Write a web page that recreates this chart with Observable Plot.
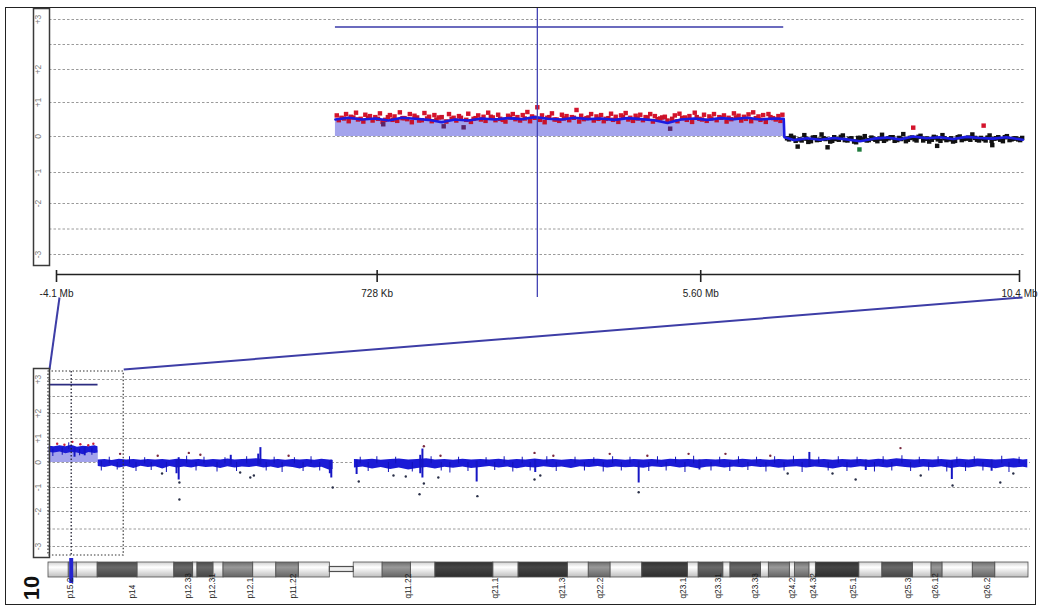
<!DOCTYPE html>
<html><head><meta charset="utf-8">
<script src="https://cdn.jsdelivr.net/npm/d3@7"></script>
<script src="https://cdn.jsdelivr.net/npm/@observablehq/plot@0.6"></script>
<style>
html,body{margin:0;padding:0;background:#fff;}
#root{position:relative;width:1039px;height:606px;overflow:hidden;background:#fff;font-family:"Liberation Sans",Arial,sans-serif;}
#root svg{position:absolute;left:0;top:0;overflow:visible;background:transparent;max-width:none;}
#frame{position:absolute;left:5px;top:7px;width:1031px;height:598px;border:1.5px solid #222;box-sizing:border-box;}
</style></head>
<body><div id="root"><div id="frame"></div></div>
<script>
// ---------------- data ----------------
const topTicks = [-4.1, 0.728, 5.6, 10.4];
const topTickLabels = ["-4.1 Mb", "728 Kb", "5.60 Mb", "10.4 Mb"];
const yTicks = [3, 2, 1, 0, -1, -2, -3];
const yTickLabels = ["+3", "+2", "+1", "0", "-1", "-2", "-3"];
const gridValues = [3, 2.5, 2, 1, 0, -1, -2, -2.5, -3];
const chromLength = 135.5;
const probeMb = 3.14;
const zoomWindow = [-4.1, 10.4];
const gainSegments = [{start: 0.10, end: 6.85, mean: 0.50, meanWide: 0.5}];

// top panel: log ratios (Mb, log ratio)
const topGainPoints = [
[0.12,0.62],[0.19,0.55],[0.26,0.66],[0.33,0.58],[0.41,0.70],[0.48,0.52],[0.55,0.64],[0.62,0.60],[0.70,0.57],[0.77,0.68],
[0.85,0.49],[0.92,0.63],[0.99,0.59],[1.07,0.71],[1.14,0.54],[1.22,0.66],[1.29,0.61],[1.36,0.47],[1.44,0.69],[1.51,0.58],
[1.59,0.63],[1.66,0.56],[1.81,0.66],[1.88,0.55],[1.96,0.60],[2.10,0.67],[2.18,0.52],[2.25,0.62],[2.33,0.58],[2.40,0.70],
[2.47,0.56],[2.55,0.64],[2.62,0.49],[2.70,0.61],[2.77,0.66],[2.84,0.57],[2.92,0.63],[2.99,0.72],[3.06,0.59],[3.14,0.86],
[3.21,0.62],[3.29,0.55],[3.36,0.68],[3.43,0.50],[3.51,0.64],[3.58,0.60],[3.66,0.57],[3.73,0.78],[3.80,0.61],[3.88,0.54],
[3.95,0.66],[4.03,0.59],[4.10,0.63],[4.17,0.52],[4.25,0.67],[4.32,0.58],[4.40,0.62],[4.47,0.69],[4.54,0.55],[4.62,0.61],
[4.69,0.64],[4.77,0.57],[4.84,0.66],[4.91,0.60],[4.99,0.53],[5.06,0.58],[5.21,0.62],[5.28,0.67],[5.36,0.56],[5.43,0.60],
[5.51,0.70],[5.58,0.52],[5.65,0.64],[5.73,0.59],[5.80,0.66],[5.88,0.57],[5.95,0.62],[6.02,0.55],[6.10,0.68],[6.17,0.61],
[6.25,0.58],[6.32,0.65],[6.39,0.71],[6.47,0.59],[6.54,0.63],[6.62,0.66],[6.69,0.54],[6.77,0.60],[6.83,0.64]];
const topGainPoints2 = [
[0.15,0.48],[0.23,0.53],[0.30,0.45],[0.37,0.56],[0.44,0.50],[0.52,0.44],[0.59,0.55],[0.66,0.47],[0.74,0.52],[0.81,0.43],
[0.89,0.57],[0.96,0.49],[1.03,0.46],[1.11,0.54],[1.18,0.51],[1.25,0.42],[1.33,0.56],[1.40,0.48],[1.48,0.53],[1.55,0.45],
[1.62,0.50],[1.70,0.57],[1.77,0.44],[1.85,0.52],[1.92,0.47],[1.99,0.55],[2.07,0.49],[2.14,0.43],[2.21,0.54],[2.29,0.50],
[2.36,0.46],[2.44,0.58],[2.51,0.48],[2.58,0.52],[2.66,0.44],[2.73,0.56],[2.81,0.51],[2.88,0.47],[2.95,0.53],[3.03,0.45],
[3.10,0.55],[3.18,0.49],[3.25,0.42],[3.32,0.57],[3.40,0.50],[3.47,0.46],[3.54,0.53],[3.62,0.48],[3.69,0.55],[3.77,0.44],
[3.84,0.51],[3.91,0.56],[3.99,0.47],[4.06,0.52],[4.14,0.45],[4.21,0.54],[4.28,0.49],[4.36,0.43],[4.43,0.57],[4.51,0.50],
[4.58,0.46],[4.65,0.53],[4.73,0.48],[4.80,0.55],[4.88,0.44],[4.95,0.51],[5.02,0.56],[5.10,0.47],[5.17,0.52],[5.25,0.45],
[5.32,0.54],[5.39,0.49],[5.47,0.43],[5.54,0.57],[5.62,0.50],[5.69,0.46],[5.76,0.53],[5.84,0.48],[5.91,0.55],[5.99,0.44],
[6.06,0.51],[6.13,0.56],[6.21,0.47],[6.28,0.52],[6.36,0.45],[6.43,0.54],[6.50,0.49],[6.58,0.43],[6.65,0.57],[6.73,0.50],[6.80,0.46]];
const topGainLowPoints = [[0.82,0.36],[1.73,0.30],[2.03,0.27],[5.14,0.23]];
const topNormalPoints = [
[6.90,-0.05],[6.96,0.02],[7.03,-0.12],[7.06,-0.28],[7.09,-0.08],[7.16,0.04],[7.22,-0.15],[7.29,-0.03],[7.35,-0.10],[7.42,0.06],
[7.48,-0.07],[7.51,-0.30],[7.55,-0.14],[7.61,-0.02],[7.68,-0.09],[7.74,0.03],[7.81,-0.11],[7.87,-0.05],[7.94,-0.16],[8.00,-0.04],
[8.07,0.01],[8.13,-0.10],[8.20,-0.06],[8.26,-0.13],[8.33,0.05],[8.39,-0.08],[8.46,-0.02],[8.52,-0.12],[8.59,-0.04],[8.65,0.07],
[8.72,-0.09],[8.78,-0.03],[8.85,-0.11],[8.91,0.02],[8.98,-0.06],[9.04,-0.14],[9.11,-0.01],[9.16,-0.26],[9.17,-0.08],[9.24,0.04],
[9.30,-0.10],[9.37,-0.05],[9.43,-0.12],[9.50,0.00],[9.56,-0.07],[9.63,-0.03],[9.69,0.06],[9.76,-0.09],[9.82,-0.04],[9.89,-0.11],
[9.95,0.03],[9.99,-0.24],[10.02,-0.06],[10.08,-0.02],[10.15,-0.13],[10.21,0.01],[10.28,-0.08],[10.34,-0.05],[10.41,-0.10]];
const topNormalPoints2 = [
[6.93,-0.08],[7.00,-0.03],[7.12,-0.11],[7.19,-0.06],[7.26,-0.13],[7.32,-0.02],[7.39,-0.09],[7.45,-0.05],[7.58,-0.12],[7.64,-0.07],
[7.71,-0.01],[7.77,-0.10],[7.84,-0.06],[7.91,-0.14],[7.97,-0.04],[8.04,-0.08],[8.10,-0.11],[8.17,-0.03],[8.23,-0.09],[8.30,-0.06],
[8.36,-0.12],[8.43,-0.05],[8.49,-0.02],[8.56,-0.10],[8.62,-0.07],[8.69,-0.13],[8.75,-0.04],[8.82,-0.08],[8.88,-0.01],[8.95,-0.11],
[9.01,-0.06],[9.08,-0.09],[9.14,-0.03],[9.21,-0.12],[9.27,-0.05],[9.34,-0.08],[9.40,-0.14],[9.47,-0.02],[9.53,-0.10],[9.60,-0.06],
[9.66,-0.09],[9.73,-0.04],[9.79,-0.11],[9.86,-0.07],[9.92,-0.03],[9.98,-0.12],[10.05,-0.05],[10.11,-0.09],[10.18,-0.02],[10.25,-0.10],
[10.31,-0.06],[10.38,-0.08],[10.44,-0.04]];
const topUpPoints = [[8.80,0.26],[9.86,0.32]];
const topDownPoints = [[7.99,-0.36]];
const topMovingAvg = [
[0.10,0.50],[0.30,0.55],[0.50,0.50],[0.70,0.53],[0.90,0.47],[1.10,0.55],[1.30,0.52],[1.50,0.49],[1.70,0.42],[1.90,0.50],
[2.10,0.47],[2.30,0.53],[2.50,0.50],[2.70,0.54],[2.90,0.51],[3.10,0.57],[3.30,0.52],[3.50,0.50],[3.70,0.55],[3.90,0.51],
[4.10,0.53],[4.30,0.49],[4.50,0.54],[4.70,0.51],[4.90,0.48],[5.10,0.40],[5.30,0.50],[5.50,0.53],[5.70,0.49],[5.90,0.54],
[6.10,0.51],[6.30,0.55],[6.50,0.50],[6.70,0.53],[6.85,0.52],[6.86,-0.02],[7.00,-0.10],[7.20,-0.05],[7.40,-0.09],[7.60,-0.04],
[7.80,-0.08],[8.00,-0.13],[8.20,-0.06],[8.40,-0.03],[8.60,-0.08],[8.80,0.00],[9.00,-0.05],[9.20,-0.02],[9.40,-0.07],[9.60,-0.01],
[9.80,-0.04],[10.00,-0.06],[10.20,-0.02],[10.45,-0.09]];

// bottom panel: whole chromosome, band of log ratios [Mb, low, high]
const bottomBandP = [
[0.10,0.42,0.68],[0.8,0.40,0.66],[1.6,0.44,0.70],[2.4,0.36,0.66],[3.2,0.42,0.72],[4.0,0.40,0.64],[4.8,0.32,0.68],[5.6,0.42,0.66],
[6.4,0.38,0.70],[6.84,0.40,0.66],[6.88,-0.16,0.10],[7.8,-0.20,0.12],[8.8,-0.14,0.08],[9.8,-0.22,0.14],[10.8,-0.16,0.10],
[11.8,-0.24,0.12],[12.8,-0.15,0.09],[13.8,-0.20,0.13],[14.8,-0.17,0.10],[15.8,-0.26,0.12],[16.8,-0.16,0.09],[17.8,-0.22,0.14],
[18.8,-0.18,0.12],[19.8,-0.22,0.10],[20.8,-0.16,0.13],[21.8,-0.20,0.09],[22.8,-0.18,0.12],[23.8,-0.24,0.10],[24.8,-0.17,0.15],
[25.8,-0.22,0.10],[26.8,-0.18,0.12],[27.8,-0.20,0.14],[28.8,-0.16,0.16],[29.8,-0.22,0.12],[30.8,-0.18,0.10],[31.8,-0.24,0.12],
[32.8,-0.17,0.09],[33.8,-0.20,0.13],[34.8,-0.26,0.10],[35.8,-0.18,0.12],[36.8,-0.22,0.09],[37.8,-0.19,0.14],[38.8,-0.30,0.10],
[39.35,-0.28,0.08]];
const bottomBandQ = [
[42.3,-0.22,0.12],[43.5,-0.18,0.10],[44.8,-0.26,0.14],[46.0,-0.20,0.09],[47.3,-0.28,0.12],[48.5,-0.22,0.15],[49.8,-0.30,0.10],
[51.0,-0.24,0.13],[52.3,-0.20,0.16],[53.5,-0.26,0.10],[54.8,-0.19,0.12],[56.0,-0.23,0.09],[57.3,-0.18,0.14],[58.5,-0.24,0.10],
[59.8,-0.20,0.12],[61.0,-0.16,0.10],[62.3,-0.22,0.14],[63.5,-0.18,0.09],[64.8,-0.25,0.12],[66.0,-0.19,0.10],[67.3,-0.22,0.15],
[68.5,-0.17,0.10],[69.8,-0.21,0.12],[71.0,-0.18,0.09],[72.3,-0.24,0.13],[73.5,-0.17,0.10],[74.8,-0.20,0.12],[76.0,-0.16,0.14],
[77.3,-0.22,0.10],[78.5,-0.18,0.12],[79.8,-0.21,0.09],[81.0,-0.19,0.13],[82.3,-0.23,0.10],[83.5,-0.17,0.12],[84.8,-0.20,0.09],
[86.0,-0.16,0.14],[87.3,-0.22,0.11],[88.5,-0.18,0.12],[89.8,-0.25,0.10],[91.0,-0.19,0.13],[92.3,-0.17,0.10],[93.5,-0.22,0.12],
[94.8,-0.18,0.09],[96.0,-0.21,0.14],[97.3,-0.16,0.10],[98.5,-0.20,0.12],[99.8,-0.18,0.09],[101.0,-0.23,0.13],[102.3,-0.19,0.10],
[103.5,-0.17,0.12],[104.8,-0.22,0.14],[106.0,-0.18,0.10],[107.3,-0.21,0.12],[108.5,-0.26,0.09],[109.8,-0.19,0.13],[111.0,-0.22,0.10],
[112.3,-0.17,0.12],[113.5,-0.20,0.09],[114.8,-0.18,0.14],[116.0,-0.22,0.10],[117.3,-0.16,0.16],[118.5,-0.20,0.12],[119.8,-0.23,0.10],
[121.0,-0.18,0.13],[122.3,-0.21,0.10],[123.5,-0.17,0.12],[124.8,-0.24,0.09],[126.0,-0.19,0.14],[127.3,-0.22,0.10],[128.5,-0.17,0.15],
[129.8,-0.20,0.12],[131.0,-0.25,0.10],[132.3,-0.18,0.13],[133.5,-0.22,0.16],[134.8,-0.19,0.10],[135.4,-0.22,0.12]];
const bottomSpikes = [
[3.6,0.22,0.60],[5.0,0.28,0.62],[17.7,-0.45,0.10],[18.0,-0.70,0.20],[25.2,-0.10,0.30],[29.0,-0.10,0.35],[29.3,-0.10,0.62],
[38.9,-0.45,0.05],[39.1,-0.62,0.10],[42.6,-0.48,0.10],[51.4,-0.45,0.30],[51.7,-0.62,0.56],[59.2,-0.78,0.05],[67.3,-0.40,0.10],
[81.6,-0.82,0.05],[90.0,-0.30,0.10],[105.2,-0.20,0.42],[113.0,-0.32,0.10],[124.9,-0.68,0.05],[130.4,-0.35,0.10]];
const bottomNoise = [
[0.6,0.25,0.55],[1.9,0.30,0.60],[2.8,0.55,0.82],[4.3,0.28,0.55],[6.0,0.30,0.58],
[7.3,-0.34,0.05],[8.4,-0.05,0.22],[9.5,-0.30,0.0],[11.2,-0.05,0.24],[12.1,-0.36,0.0],[13.3,-0.05,0.20],[14.2,-0.32,0.0],
[16.3,-0.40,0.0],[19.1,-0.05,0.26],[20.4,-0.34,0.0],[21.5,-0.05,0.22],[23.3,-0.38,0.0],[24.4,-0.05,0.20],[26.0,-0.36,0.0],
[27.4,-0.05,0.24],[30.1,-0.34,0.0],[31.2,-0.05,0.22],[32.3,-0.40,0.0],[34.0,-0.05,0.20],[35.2,-0.36,0.0],[36.3,-0.05,0.24],
[37.5,-0.34,0.0],[43.1,-0.05,0.22],[44.2,-0.36,0.0],[45.4,-0.05,0.24],[47.0,-0.40,0.0],[48.0,-0.05,0.22],[50.3,-0.38,0.0],
[52.9,-0.05,0.24],[54.3,-0.34,0.0],[55.5,-0.42,0.0],[56.7,-0.05,0.22],[58.0,-0.36,0.0],[60.5,-0.05,0.20],[61.7,-0.32,0.0],
[63.0,-0.05,0.24],[64.2,-0.38,0.0],[65.5,-0.05,0.22],[66.6,-0.34,0.0],[68.9,-0.05,0.24],[70.2,-0.36,0.0],[72.8,-0.05,0.22],
[74.1,-0.34,0.0],[75.4,-0.05,0.20],[76.7,-0.38,0.0],[78.0,-0.05,0.24],[79.2,-0.34,0.0],[80.4,-0.05,0.22],[83.0,-0.36,0.0],
[84.2,-0.05,0.24],[85.4,-0.34,0.0],[86.7,-0.05,0.22],[88.0,-0.40,0.0],[89.2,-0.05,0.26],[91.6,-0.34,0.0],[92.8,-0.05,0.22],
[94.2,-0.36,0.0],[95.4,-0.05,0.24],[96.7,-0.32,0.0],[97.9,-0.05,0.22],[99.2,-0.38,0.0],[100.4,-0.05,0.24],[101.7,-0.34,0.0],
[103.0,-0.05,0.26],[104.2,-0.40,0.0],[106.5,-0.05,0.22],[107.8,-0.34,0.0],[109.2,-0.05,0.24],[110.4,-0.36,0.0],[111.8,-0.05,0.22],
[114.2,-0.38,0.0],[115.4,-0.05,0.24],[116.6,-0.34,0.0],[118.0,-0.05,0.28],[119.2,-0.36,0.0],[120.4,-0.05,0.22],[121.7,-0.34,0.0],
[123.0,-0.05,0.24],[124.2,-0.38,0.0],[125.6,-0.05,0.22],[126.8,-0.36,0.0],[128.0,-0.05,0.24],[129.2,-0.34,0.0],[131.8,-0.05,0.26],
[132.8,-0.40,0.0],[134.2,-0.05,0.22]];
const bottomGainHigh = [[1.2,0.78],[2.2,0.74],[3.3,0.86],[4.4,0.76],[5.5,0.72],[6.2,0.78]];
const bottomOutliers = [
[9.9,0.36],[15.1,0.28],[15.7,-0.44],[18.1,-0.80],[18.1,-1.50],[19.4,0.40],[21.0,0.32],[26.5,-0.40],[27.9,-0.60],[28.4,-0.52],
[33.2,0.28],[39.3,-1.00],[42.9,-0.76],[47.7,-0.52],[49.4,-0.56],[51.3,-1.28],[51.9,0.68],[51.9,-0.84],[53.9,-0.60],[54.2,0.28],
[59.3,-1.36],[67.2,0.40],[67.2,-0.68],[68.0,-0.52],[69.8,0.28],[77.6,0.36],[81.6,-1.20],[82.8,0.28],[88.5,0.36],[93.6,0.36],
[99.8,0.28],[102.2,-0.44],[108.4,-0.44],[111.6,-0.68],[117.8,0.60],[120.6,-0.52],[125.0,-0.92],[131.6,-0.80],[133.4,-0.44]];

// ideogram bands [start Mb, end Mb, stain]
const ideogramBands = [
[0,2.8,"gneg"],[2.8,3.9,"gpos25"],[3.9,6.8,"gneg"],[6.8,12.3,"gpos75"],[12.3,17.4,"gneg"],[17.4,20.0,"gpos75"],[20.0,20.6,"gneg"],
[20.6,22.8,"gpos75"],[22.8,24.2,"gneg"],[24.2,28.3,"gpos50"],[28.3,31.5,"gneg"],[31.5,34.6,"gpos50"],[34.6,38.9,"gneg"],
[42.2,46.2,"gneg"],[46.2,50.1,"gpos50"],[50.1,53.5,"gneg"],[53.5,61.5,"gpos100"],[61.5,65.0,"gneg"],[65.0,71.8,"gpos100"],
[71.8,74.7,"gneg"],[74.7,77.7,"gpos50"],[77.7,82.1,"gneg"],[82.1,88.4,"gpos100"],[88.4,89.9,"gneg"],[89.9,93.3,"gpos75"],
[93.3,94.3,"gneg"],[94.3,98.5,"gpos75"],[98.5,99.6,"gneg"],[99.6,102.5,"gpos50"],[102.5,103.2,"gneg"],[103.2,105.2,"gpos50"],
[105.2,106.1,"gneg"],[106.1,112.1,"gpos100"],[112.1,115.3,"gneg"],[115.3,119.5,"gpos75"],[119.5,122.1,"gneg"],[122.1,123.6,"gpos50"],
[123.6,127.8,"gneg"],[127.8,130.9,"gpos50"],[130.9,135.5,"gneg"]];
const centromere = [[38.9, 42.2]];
const bandLabels = [
["p15.2",3.0],["p14",11.6],["p12.33",19.4],["p12.31",22.7],["p12.1",27.9],["p11.22",33.9],["q11.22",49.8],["q21.1",61.8],
["q21.3",71.1],["q22.2",76.3],["q23.1",87.8],["q23.31",92.6],["q23.33",97.8],["q24.2",102.9],["q24.32",105.8],["q25.1",111.3],
["q25.3",118.9],["q26.12",122.6],["q26.2",129.8]];
const chromosomeName = "10";

// ---------------- drawing (every layer is a full-page SVG; margins place its frame) ----------------
const W = 1039, H = 606;
const root = document.getElementById("root");
const FONT = "'Liberation Sans', Arial, sans-serif";
const baseStyle = {background: "transparent", overflow: "visible", fontFamily: FONT};
const X = d => d[0], Y = d => d[1];
const GRID = {stroke: "#9a9a9a", strokeDasharray: "2.5,2", strokeWidth: 1};
const SQ = {x: X, y: Y, symbol: "square", r: 2.5};
const layer = (opts) => Plot.plot({width: W, height: H, style: baseStyle, ...opts});

// panel geometry (page pixels)
const TOP = {top: 8, bottom: 265, left: 49, right: 1025};
const BOT = {top: 371, bottom: 555, left: 48, right: 1030};
const topY = {type: "linear", domain: [-3.22,-3,-2,-1,0,1,2,3,3.22], range: [265,254,203,172,136,102,69,19,8], axis: null};
const topX = {domain: [topTicks[0], topTicks[3]], range: [56, 1019], axis: null};
const botY = {type: "linear", domain: [-3.26,-3,-2,-1,0,1,2,3,3.24], range: [555,546,511,487,462,438,413,379,371], axis: null};
const botX = {domain: [0, chromLength], range: [48, 1028], axis: null};

// top panel
const topPlot = layer({
  marginTop: TOP.top, marginBottom: H - TOP.bottom, marginLeft: TOP.left, marginRight: W - TOP.right,
  x: topX, y: topY,
  marks: [
    Plot.ruleY(gridValues, GRID),
    Plot.rect(gainSegments, {x1: "start", x2: "end", y1: 0, y2: "mean", fill: "#a3a3ec"}),
    Plot.dot(topGainPoints, {...SQ, fill: "#d4142c"}),
    Plot.dot(topGainPoints2, {...SQ, fill: "#c8122a"}),
    Plot.dot(topGainLowPoints, {...SQ, fill: "#5a2368"}),
    Plot.dot(topNormalPoints, {...SQ, fill: "#111"}),
    Plot.dot(topNormalPoints2, {...SQ, fill: "#111"}),
    Plot.dot(topUpPoints, {...SQ, fill: "#d4142c"}),
    Plot.dot(topDownPoints, {...SQ, fill: "#1e7a3c"}),
    Plot.line(topMovingAvg, {x: X, y: Y, stroke: "#1c1ce2", strokeWidth: 2.6}),
    Plot.ruleY(gainSegments, {y: () => 2.85, x1: "start", x2: "end", stroke: "#3a3aa8", strokeWidth: 1.6}),
    Plot.ruleX([probeMb], {stroke: "#4444b4", strokeWidth: 1.3, insetBottom: -32})
  ]
});

// y strips (boxed, rotated labels)
function strip(yOpts, top, bottom) {
  return layer({
    marginTop: top, marginBottom: H - bottom, marginLeft: 33, marginRight: W - 49,
    x: {domain: [0, 1], axis: null}, y: yOpts,
    marks: [
      Plot.frame({stroke: "#3a3a3a", strokeWidth: 1.5}),
      Plot.text(yTicks, {y: d => d, text: (d, i) => yTickLabels[i], frameAnchor: "left", dx: 5,
        textAnchor: "middle", lineAnchor: "middle", rotate: -90, fontSize: 8.5, fill: "#7a7a7a"})
    ]
  });
}

// top x axis (frame 270..282)
const axisPlot = layer({
  marginTop: 270, marginBottom: H - 282, marginLeft: 0, marginRight: 0,
  x: topX, y: {domain: [0, 1], axis: null},
  marks: [
    Plot.ruleY([1], {x1: topTicks[0], x2: topTicks[3], dy: 4, stroke: "#222", strokeWidth: 1.3}),
    Plot.ruleX(topTicks, {stroke: "#222", strokeWidth: 1.6}),
    Plot.text(topTicks, {x: d => d, text: (d, i) => topTickLabels[i], frameAnchor: "bottom", dy: 11,
      lineAnchor: "middle", textAnchor: "middle", fontSize: 10, fill: "#222"})
  ]
});

// bottom panel
const BAND = "#1b1bd6";
const botPlot = layer({
  marginTop: BOT.top, marginBottom: H - BOT.bottom, marginLeft: BOT.left, marginRight: W - BOT.right,
  x: botX, y: botY,
  marks: [
    Plot.ruleY(gridValues, GRID),
    Plot.rect(gainSegments, {x1: "start", x2: "end", y1: 0, y2: "meanWide", fill: "#a3a3ec"}),
    Plot.areaY(bottomBandP, {x: X, y1: d => d[1], y2: d => d[2], fill: BAND}),
    Plot.areaY(bottomBandQ, {x: X, y1: d => d[1], y2: d => d[2], fill: BAND}),
    Plot.ruleX(bottomNoise, {x: X, y1: d => d[1], y2: d => d[2], stroke: "#1212b8", strokeWidth: 1}),
    Plot.ruleX(bottomSpikes, {x: X, y1: d => d[1], y2: d => d[2], stroke: "#1616c4", strokeWidth: 2}),
    Plot.dot(bottomGainHigh, {x: X, y: Y, r: 1.2, fill: "#c8203a"}),
    Plot.dot(bottomOutliers, {x: X, y: Y, r: 1.2, fill: d => d[1] > 0 ? "#7a2a40" : "#2a3048"}),
    Plot.ruleY(gainSegments, {y: () => 2.85, x1: "start", x2: "end", stroke: "#2c2c80", strokeWidth: 1.6}),
    Plot.rect([zoomWindow], {x1: d => Math.max(d[0], 0), x2: d => d[1], stroke: "#333", strokeWidth: 1.2, strokeDasharray: "1.5,2", fill: "none"}),
    Plot.ruleX([probeMb], {stroke: "#223", strokeWidth: 1.3, strokeDasharray: "1.5,2"})
  ]
});

// ideogram (frame 562..577)
const stainColor = {gneg: "#f4f4f4", gpos25: "#a8a8a8", gpos50: "#808080", gpos75: "#585858", gpos100: "#3a3a3a"};
const ideoMarks = Object.keys(stainColor).map(s =>
  Plot.rect(ideogramBands.filter(b => b[2] === s), {x1: d => d[0], x2: d => d[1], fill: `url(#ideo-${s})`, stroke: "#505050", strokeWidth: 0.8}));
const ideoPlot = layer({
  marginTop: 562, marginBottom: H - 577, marginLeft: BOT.left, marginRight: W - BOT.right,
  x: botX, y: {domain: [0, 1], axis: null},
  marks: [
    ...ideoMarks,
    Plot.rect(centromere, {x1: X, x2: Y, insetTop: 4.5, insetBottom: 5.5, fill: "#eeeeee", stroke: "#505050", strokeWidth: 1.2}),
    Plot.ruleX([probeMb], {stroke: "#2424d0", strokeWidth: 4, insetTop: -4, insetBottom: -6}),
    Plot.text(bandLabels, {x: Y, text: X, frameAnchor: "bottom", dy: 21, rotate: -90, textAnchor: "start",
      lineAnchor: "middle", fontSize: 8.3, fill: "#222"}),
    Plot.text([chromosomeName], {text: d => d, frameAnchor: "left", dx: -17, dy: 18, rotate: -90, textAnchor: "middle",
      lineAnchor: "middle", fontSize: 22, fontWeight: "bold", fill: "#111"})
  ]
});
const defs = Object.entries(stainColor).map(([k, c]) => {
  const col = d3.color(c);
  return `<linearGradient id="ideo-${k}" x1="0" y1="0" x2="0" y2="1">
    <stop offset="0" stop-color="${col.darker(0.45).formatHex()}"/>
    <stop offset="0.35" stop-color="${col.brighter(0.5).formatHex()}"/>
    <stop offset="1" stop-color="${col.darker(0.7).formatHex()}"/></linearGradient>`;
}).join("");
ideoPlot.insertAdjacentHTML("afterbegin", `<defs>${defs}</defs>`);

// connectors between the zoom window and the detail axis
const tx = axisPlot.scale("x"), bx = botPlot.scale("x");
const connectors = [
  {x1: tx.apply(zoomWindow[0]) + 3, y1: 297, x2: bx.apply(Math.max(zoomWindow[0], 0)) + 1, y2: BOT.top - 2},
  {x1: tx.apply(zoomWindow[1]) + 3, y1: 297, x2: bx.apply(zoomWindow[1]), y2: BOT.top - 2}
];
const overlay = layer({
  margin: 0, x: {type: "identity"}, y: {type: "identity"},
  marks: [Plot.link(connectors, {x1: "x1", y1: "y1", x2: "x2", y2: "y2", stroke: "#3d3da6", strokeWidth: 2})]
});

// stacking order: lines underneath, text-bearing layers on top
[overlay, topPlot, botPlot, axisPlot, strip(topY, TOP.top, TOP.bottom), strip(botY, 368, 557), ideoPlot]
  .forEach(svg => root.appendChild(svg));
</script>
</body></html>
